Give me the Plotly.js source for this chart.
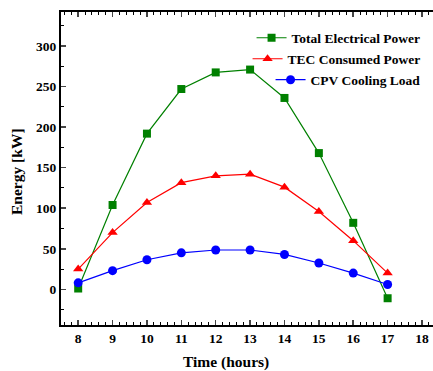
<!DOCTYPE html>
<html>
<head>
<meta charset="utf-8">
<script src="https://cdn.plot.ly/plotly-3.0.1.min.js"></script>
<style>html,body{margin:0;padding:0;background:#fff;}#chart{width:433px;height:371px;}</style>
</head>
<body>
<div id="chart"></div>
<script>
const hours = [8, 9, 10, 11, 12, 13, 14, 15, 16, 17];
const totalElectricalPower = [1, 104, 192, 247, 267.5, 271, 236, 168, 82, -11];
const tecConsumedPower = [25, 70, 107, 131.5, 140, 142, 126, 96, 60, 20];
const cpvCoolingLoad = [8, 23, 36.5, 45, 48.5, 48.5, 43, 32.5, 20, 6];
const seriesNames = ['Total Electrical Power', 'TEC Consumed Power', 'CPV Cooling Load'];
const xTickValues = [8, 9, 10, 11, 12, 13, 14, 15, 16, 17, 18];
const yTickValues = [0, 50, 100, 150, 200, 250, 300];

const serif = 'Liberation Serif, Times New Roman, serif';
const traces = [
  {x: hours, y: totalElectricalPower, name: seriesNames[0], type: 'scatter', mode: 'lines+markers',
   line: {color: '#008000', width: 1.2}, marker: {symbol: 'square', size: 8, color: '#008000'}, legend: 'legend'},
  {x: hours, y: tecConsumedPower, name: seriesNames[1], type: 'scatter', mode: 'lines+markers',
   line: {color: '#ff0000', width: 1.2}, marker: {symbol: 'triangle-up', size: 9, color: '#ff0000'}, legend: 'legend2'},
  {x: hours, y: cpvCoolingLoad, name: seriesNames[2], type: 'scatter', mode: 'lines+markers',
   line: {color: '#0000ff', width: 1.2}, marker: {symbol: 'circle', size: 9, color: '#0000ff'}, legend: 'legend3'}
];
const legFont = {family: serif, size: 13.5, color: '#000', weight: 'bold'};
function leg(y) {
  return {x: 0.98, xanchor: 'right', y: y, yanchor: 'middle', bgcolor: 'rgba(0,0,0,0)',
          font: legFont, itemwidth: 30, tracegroupgap: 0};
}
const layout = {
  width: 433, height: 371,
  margin: {l: 61, r: 0, t: 12, b: 46},
  paper_bgcolor: '#fff', plot_bgcolor: '#fff',
  showlegend: true,
  legend: leg(0.917), legend2: leg(0.85), legend3: leg(0.783),
  xaxis: {
    range: [7.5, 18.32], tickvals: xTickValues, ticks: 'inside', ticklen: 5, tickwidth: 1.5,
    showline: true, linewidth: 2, linecolor: '#000', mirror: 'ticks', showgrid: false, zeroline: false,
    tickfont: {family: serif, size: 13.5, color: '#000', weight: 'bold'},
    minor: {dtick: 0.2, ticks: 'inside', ticklen: 3, tickwidth: 1, tickcolor: '#000', showgrid: false}
  },
  yaxis: {
    range: [-44, 342], tickvals: yTickValues, ticks: 'inside', ticklen: 5, tickwidth: 1.5,
    showline: true, linewidth: 2, linecolor: '#000', showgrid: false, zeroline: false,
    tickfont: {family: serif, size: 13.5, color: '#000', weight: 'bold'},
    minor: {dtick: 25, tick0: 0, ticks: 'inside', ticklen: 3, tickwidth: 1, tickcolor: '#000', showgrid: false}
  },
  annotations: [
    {text: 'Time (hours)', xref: 'paper', yref: 'paper', x: 0.444, y: -0.118, xanchor: 'center', yanchor: 'middle',
     showarrow: false, font: {family: serif, size: 15.5, color: '#000', weight: 'bold'}},
    {text: 'Energy [kW]', xref: 'paper', yref: 'paper', x: -0.12, y: 0.49, xanchor: 'center', yanchor: 'middle',
     textangle: -90, showarrow: false, font: {family: serif, size: 15.5, color: '#000', weight: 'bold'}}
  ]
};
Plotly.newPlot('chart', traces, layout, {displayModeBar: false, staticPlot: true});
</script>
</body>
</html>
